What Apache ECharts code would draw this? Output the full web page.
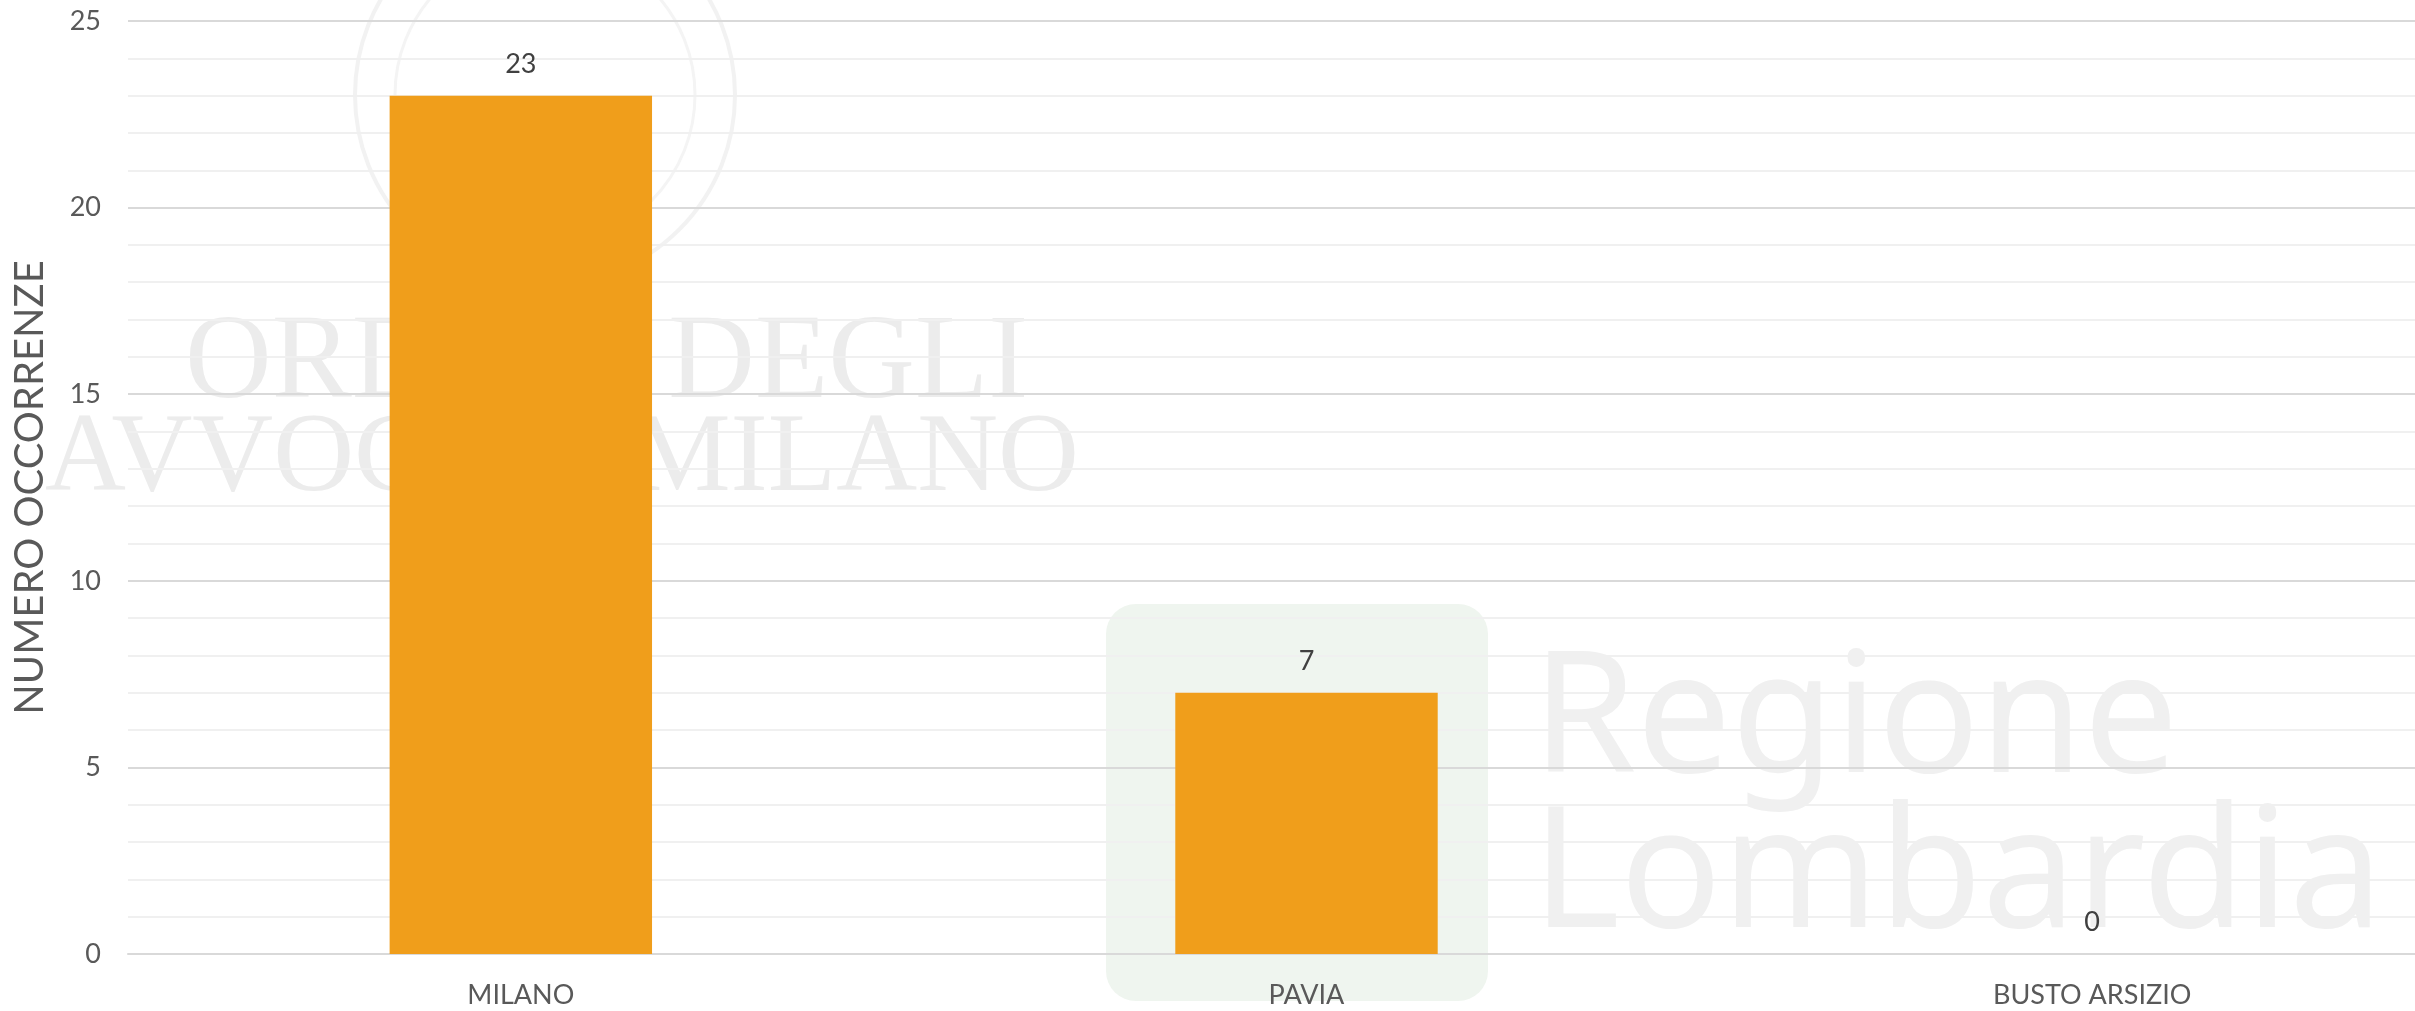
<!DOCTYPE html>
<html><head><meta charset="utf-8">
<script src="https://cdn.jsdelivr.net/npm/echarts@6/dist/echarts.min.js"></script>
<style>html,body{margin:0;padding:0;background:#fff}#c{width:2415px;height:1011px}</style>
</head><body><div id="c"></div>
<script>
const categories = ['MILANO', 'PAVIA', 'BUSTO ARSIZIO'];
const occorrenze = [23, 7, 0];
const yMin = 0, yMax = 25, yInterval = 5;
const yTitle = 'NUMERO OCCORRENZE';

const chart = echarts.init(document.getElementById('c'));
const font = 'Lato, "Liberation Sans", sans-serif';
chart.setOption({
  backgroundColor: '#ffffff',
  animation: false,
  graphic: [
    { type: 'circle', z: -10, shape: { cx: 545, cy: 95, r: 190 }, style: { fill: 'none', stroke: '#f2f2f2', lineWidth: 4 } },
    { type: 'circle', z: -10, shape: { cx: 545, cy: 95, r: 150 }, style: { fill: 'none', stroke: '#f4f4f4', lineWidth: 3 } },
    { type: 'text', z: -10, left: 185, top: 305, style: { text: 'ORDINE DEGLI', font: '400 120px "Liberation Serif", serif', fill: '#ececec' } },
    { type: 'text', z: -10, left: 45, top: 405, style: { text: 'AVVOCATI MILANO', font: '400 112px "Liberation Serif", serif', fill: '#ececec' } },
    { type: 'rect', z: -10, shape: { x: 1106, y: 604, width: 382, height: 397, r: 30 }, style: { fill: '#eff5ef' } },
    { type: 'text', z: -10, left: 1532, top: 640, style: { text: 'Regione', font: '400 168px "Noto Sans", sans-serif', fill: '#f0f0f0' } },
    { type: 'text', z: -10, left: 1532, top: 795, style: { text: 'Lombardia', font: '400 168px "Noto Sans", sans-serif', fill: '#f0f0f0' } }
  ],
  grid: { left: 128, top: 21, right: -70, bottom: 57, containLabel: false, outerBoundsMode: 'none' },
  xAxis: {
    type: 'category',
    data: categories,
    axisLine: { show: true, lineStyle: { color: '#d9d9d9', width: 2 } },
    axisTick: { show: false },
    axisLabel: { color: '#595959', fontSize: 27, fontFamily: font, margin: 28 },
    splitLine: { show: false }
  },
  yAxis: {
    type: 'value',
    min: yMin, max: yMax, interval: yInterval,
    name: yTitle,
    nameLocation: 'middle',
    nameGap: 78,
    nameRotate: 90,
    nameTextStyle: { color: '#595959', fontSize: 40, fontFamily: font },
    axisLine: { show: false },
    axisTick: { show: false },
    axisLabel: { color: '#595959', fontSize: 27, fontFamily: font, margin: 27 },
    splitLine: { show: true, lineStyle: { color: '#d9d9d9', width: 2 } },
    minorTick: { show: false, splitNumber: 5 },
    minorSplitLine: { show: true, lineStyle: { color: '#f0f0f0', width: 2 } }
  },
  series: [{
    type: 'bar',
    data: occorrenze,
    barWidth: '33.4%',
    itemStyle: { color: '#f09e1b' },
    label: { show: true, position: 'top', distance: 18, color: '#404040', fontSize: 27, fontFamily: font }
  }]
});
</script></body></html>
